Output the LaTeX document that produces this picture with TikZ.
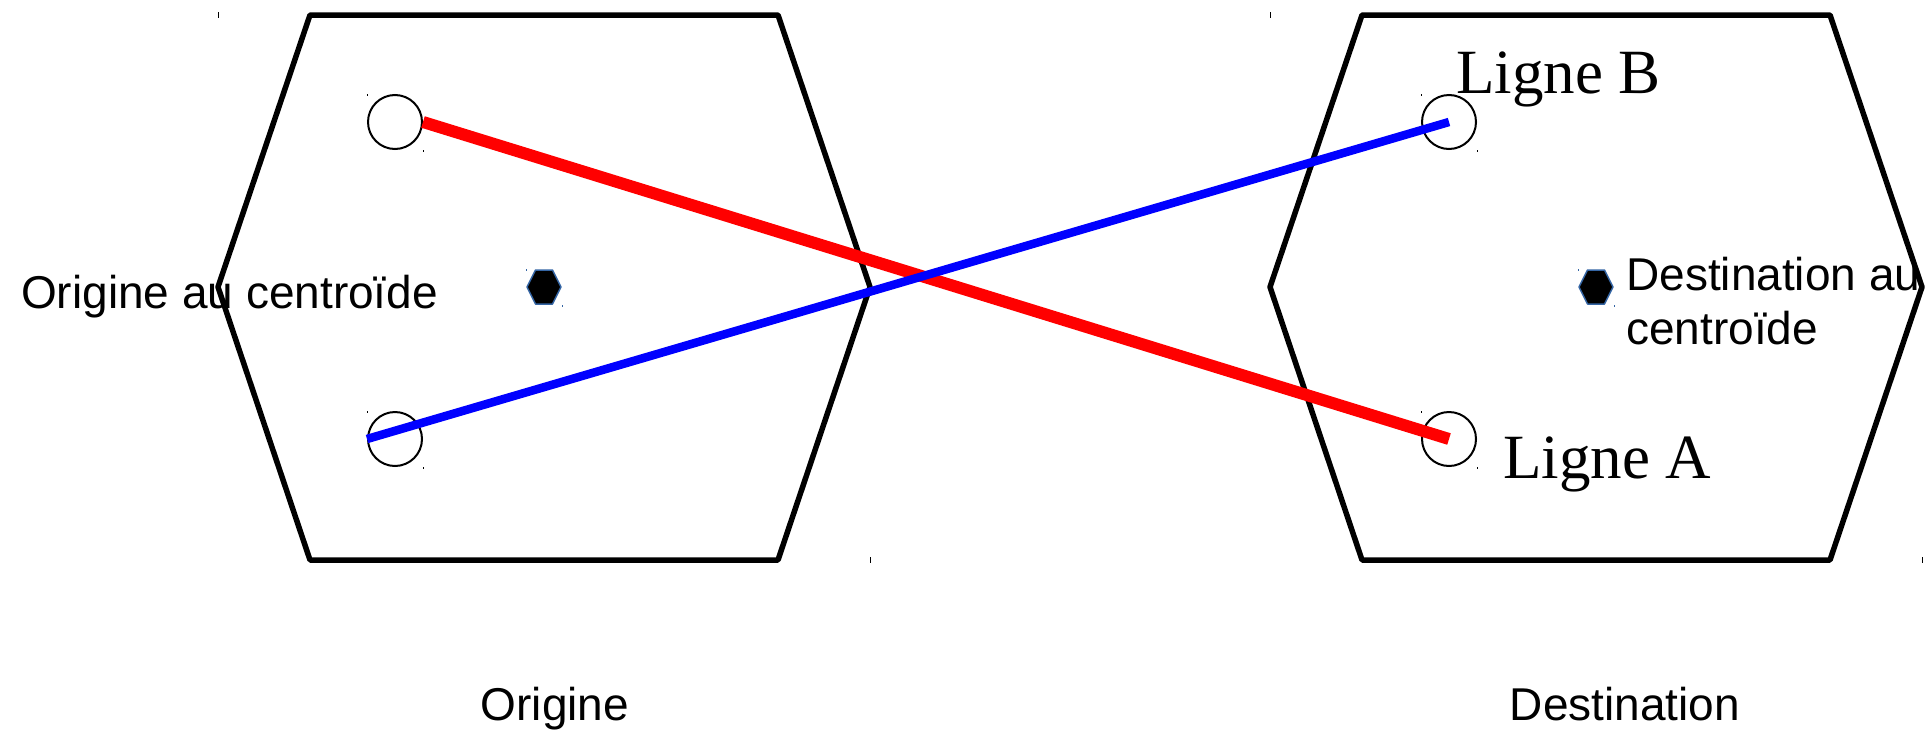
\documentclass[tikz,border=0pt]{standalone}
\usepackage{fontspec}
\setmainfont{Liberation Serif}
\setsansfont{Liberation Sans}
\usepackage{tikz}
\usetikzlibrary{positioning, calc}

\definecolor{hexblue}{HTML}{3465A4}

\begin{document}
\begin{tikzpicture}[x=1pt, y=-1pt,
  zone/.style={draw, line width=5.5pt, line join=round},
  stop/.style={draw, circle, line width=2pt, minimum size=54pt, inner sep=0pt},
  centroid/.style={draw=hexblue, fill=black, line width=1.5pt, line join=round},
  sanslabel/.style={font=\fontsize{46}{54}\selectfont\sffamily, inner sep=0pt, align=left},
  seriflabel/.style={font=\fontsize{63}{72}\selectfont\rmfamily, inner sep=0pt},
  ligneA/.style={draw=red, line width=12pt},
  ligneB/.style={draw=blue, line width=8.5pt},
  bboxtick/.style={line width=1pt}]
\useasboundingbox (0,0) rectangle (1929,731);
% zones
\draw[zone] (218,287) -- (310,15) -- (778,15) -- (870,287) -- (778,560) -- (310,560) -- cycle;
\draw[zone] (1270,287) -- (1362,15) -- (1830,15) -- (1922,287) -- (1830,560) -- (1362,560) -- cycle;
\draw[bboxtick] (218,12) -- (218,18);
\draw[bboxtick] (870,557) -- (870,563);
\draw[bboxtick] (1270,12) -- (1270,18);
\draw[bboxtick] (1922,557) -- (1922,563);
% stops
\node[stop] (oA) at (395,122) {};
\node[stop] (oB) at (395,439) {};
\node[stop] (dB) at (1449,122) {};
\node[stop] (dA) at (1449,439) {};
\foreach \n in {oA,oB,dA,dB} {
  \draw[line width=0.8pt] ($(\n.center)+(-28,-28)$) -- ++(0,2);
  \draw[line width=0.8pt] ($(\n.center)+(28,28)$) -- ++(0,2);
}
% centroids
\coordinate (oc) at (544,287);
\coordinate (dc) at (1596,287);
\foreach \c in {oc,dc} {
  \draw[centroid] ($(\c)+(-17,0)$) -- ++(8.5,-17) -- ++(17,0) -- ++(8.5,17) -- ++(-8.5,17) -- ++(-17,0) -- cycle;
  \draw[hexblue, line width=0.8pt] ($(\c)+(-18,-18)$) -- ++(0,2);
  \draw[hexblue, line width=0.8pt] ($(\c)+(18,18)$) -- ++(0,2);
}
% lignes
\draw[ligneA] (oA.east) -- (dA.center);
\draw[ligneB] (oB.west) -- (dB.center);
% labels
\node[sanslabel, anchor=base west] (ocText) at (21,308) {Origine au centroïde};
\node[sanslabel, anchor=base west] (dcText) at (1626,344) {Destination au\\centroïde};
\node[seriflabel, anchor=base west] (lbText) at (1456,93) {Ligne B};
\node[seriflabel, anchor=base west] (laText) at (1503,478) {Ligne A};
\node[sanslabel, anchor=base] (oText) at (555,720) {Origine};
\node[sanslabel, anchor=base] (dText) at (1625,720) {Destination};
\end{tikzpicture}
\end{document}
